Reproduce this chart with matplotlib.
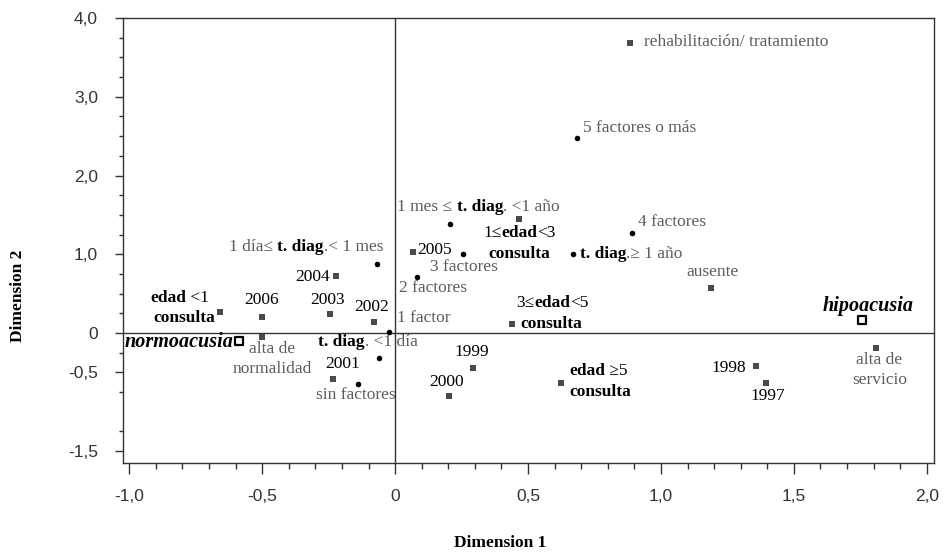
import matplotlib
matplotlib.use("Agg")
import matplotlib.pyplot as plt
from matplotlib.ticker import FixedLocator, MultipleLocator

# correspondence analysis coordinates
names = ["rehabilitación/ tratamiento", "5 factores o más", "4 factores", "t. diag.≥ 1 año",
         "ausente", "hipoacusia", "alta de servicio", "1998", "1997", "edad ≥5 consulta",
         "1999", "2000", "3≤edad<5 consulta", "1 factor", "2 factores", "3 factores", "2005",
         "1 mes ≤ t. diag. <1 año", "1≤edad<3 consulta", "1 día≤ t. diag.< 1 mes", "2004",
         "2003", "2002", "2006", "edad <1 consulta", "normoacusia", "alta de normalidad",
         "t. diag. <1 día", "2001", "sin factores"]
dim1 = [0.883, 0.684, 0.891, 0.669, 1.19, 1.756, 1.81, 1.357, 1.395, 0.624,
        0.293, 0.203, 0.44, -0.023, 0.083, 0.256, 0.068, 0.207, 0.466, -0.068,
        -0.222, -0.244, -0.079, -0.5, -0.658, -0.586, -0.5, -0.06, -0.233, -0.139]
dim2 = [3.68, 2.48, 1.27, 1.00, 0.57, 0.165, -0.19, -0.42, -0.635, -0.635,
        -0.44, -0.80, 0.114, 0.013, 0.71, 1.00, 1.03, 1.38, 1.45, 0.876,
        0.724, 0.24, 0.14, 0.20, 0.267, -0.10, -0.05, -0.32, -0.584, -0.648]
kind = ["sq", "dot", "dot", "dot", "sq", "hollow", "sq", "sq", "sq", "sq",
        "sq", "sq", "sq", "dot", "dot", "dot", "sq", "dot", "sq", "dot",
        "sq", "sq", "sq", "sq", "sq", "hollow", "sq", "dot", "sq", "dot"]

xtick_vals = [-1.0, -0.5, 0, 0.5, 1.0, 1.5, 2.0]
xtick_text = ["-1,0", "-0,5", "0", "0,5", "1,0", "1,5", "2,0"]
ytick_vals = [4.0, 3.0, 2.0, 1.0, 0, -0.5, -1.5]
ytick_text = ["4,0", "3,0", "2,0", "1,0", "0", "-0,5", "-1,5"]

# label layout: (dx px, dy px, ha, [(text, style), ...]) per line
layout = {
    "rehabilitación/ tratamiento": [(14, 1, "left", [("rehabilitación/ tratamiento", "g")])],
    "5 factores o más": [(6, 10, "left", [("5 factores o más", "g")])],
    "4 factores": [(6, 11, "left", [("4 factores", "g")])],
    "t. diag.≥ 1 año": [(7, 0, "left", [("t. diag", "b"), (".≥ 1 año", "g")])],
    "ausente": [(1, 16, "center", [("ausente", "g")])],
    "hipoacusia": [(6, 14, "center", [("hipoacusia", "bi")])],
    "alta de servicio": [(3, -22, "center", [("alta de\nservicio", "g")])],
    "1998": [(-10, -2, "right", [("1998", "k")])],
    "1997": [(2, -13, "center", [("1997", "k")])],
    "edad ≥5 consulta": [(8, 12, "left", [("edad", "b"), (" ≥5", "k")]),
                         (8, -9, "left", [("consulta", "b")])],
    "1999": [(-1, 16, "center", [("1999", "k")])],
    "2000": [(-3, 14, "center", [("2000", "k")])],
    "3≤edad<5 consulta": [(4, 21, "left", [("3≤", "k"), ("edad", "b"), ("<5", "k")]),
                          (8, 0, "left", [("consulta", "b")])],
    "1 factor": [(8, 14, "left", [("1 factor", "g")])],
    "2 factores": [(-18, -11, "left", [("2 factores", "g")])],
    "3 factores": [(-33, -13, "left", [("3 factores", "g")])],
    "2005": [(4, 2, "left", [("2005", "k")])],
    "1 mes ≤ t. diag. <1 año": [(-53, 17, "left", [("1 mes ≤ ", "g"), ("t. diag", "b"), (". <1 año", "g")])],
    "1≤edad<3 consulta": [(-36, -14, "left", [("1≤", "k"), ("edad", "b"), ("<3", "k")]),
                          (-31, -35, "left", [("consulta", "b")])],
    "1 día≤ t. diag.< 1 mes": [(-148, 17, "left", [("1 día≤ ", "g"), ("t. diag", "b"), (".< 1 mes", "g")])],
    "2004": [(-6, -1, "right", [("2004", "k")])],
    "2003": [(-3, 14, "center", [("2003", "k")])],
    "2002": [(-2, 15, "center", [("2002", "k")])],
    "2006": [(-1, 17, "center", [("2006", "k")])],
    "edad <1 consulta": [(-70, 14, "left", [("edad", "b"), (" <1", "k")]),
                         (-5, -6, "right", [("consulta", "b")])],
    "normoacusia": [(-6, -1, "right", [("normoacusia", "bi")])],
    "alta de normalidad": [(10, -22, "center", [("alta de\nnormalidad", "g")])],
    "t. diag. <1 día": [(-61, 16, "left", [("t. diag", "b"), (". <1 día", "g")])],
    "2001": [(9, 15, "center", [("2001", "k")])],
    "sin factores": [(-42, -11, "left", [("sin factores", "g")])],
}

SERIF = "Liberation Serif"
styles = {
    "g": dict(color="#5c5c5c", fontweight="normal", fontsize=12.5),
    "k": dict(color="black", fontweight="normal", fontsize=12.5),
    "b": dict(color="black", fontweight="bold", fontsize=12.5),
    "bi": dict(color="black", fontweight="bold", fontstyle="italic", fontsize=14.5),
}

fig = plt.figure(figsize=(9.47, 5.54), dpi=100)
ax = fig.add_axes([0.130, 0.1643, 0.856, 0.8032])
ax.set_xlim(-1.023, 2.026)
ax.set_ylim(-1.65, 4.0)

ax.axhline(0, color="#333333", lw=1.0, zorder=1)
ax.axvline(0, color="#333333", lw=1.0, zorder=1)

for k in ["sq", "dot", "hollow"]:
    xs = [x for x, kk in zip(dim1, kind) if kk == k]
    ys = [y for y, kk in zip(dim2, kind) if kk == k]
    if k == "sq":
        ax.scatter(xs, ys, marker="s", s=18, color="#4a4a4a", linewidths=0, zorder=3)
    elif k == "dot":
        ax.scatter(xs, ys, marker="o", s=16, color="black", linewidths=0, zorder=3)
    else:
        ax.scatter(xs, ys, marker="s", s=30, facecolor="white", edgecolor="black",
                   linewidths=1.6, zorder=3)


def put_line(x, y, dx, dy, ha, pieces):
    txt, st = pieces[0]
    prev = ax.annotate(txt, (x, y), xytext=(dx, dy), textcoords="offset pixels",
                       ha=ha, va="center", family=SERIF, multialignment="center",
                       linespacing=1.3, **styles[st])
    for txt, st in pieces[1:]:
        prev = ax.annotate(txt, xy=(1, 0.5), xycoords=prev, ha="left", va="center",
                           family=SERIF, **styles[st])


for name, x, y in zip(names, dim1, dim2):
    for dx, dy, ha, pieces in layout[name]:
        put_line(x, y, dx, dy, ha, pieces)

ax.xaxis.set_major_locator(FixedLocator(xtick_vals))
ax.set_xticklabels(xtick_text)
ax.xaxis.set_minor_locator(MultipleLocator(0.1))
ax.yaxis.set_major_locator(FixedLocator(ytick_vals))
ax.set_yticklabels(ytick_text)
ax.yaxis.set_minor_locator(FixedLocator([v / 4 for v in range(-6, 17) if v % 4 != 0 and v != -2]))

ax.tick_params(axis="x", which="major", direction="out", length=8, width=1, pad=11,
               labelsize=12.5, labelcolor="#333333", color="#333333")
ax.tick_params(axis="x", which="minor", direction="out", length=4.5, width=1, color="#333333")
ax.tick_params(axis="y", which="major", direction="out", length=6, width=1, pad=12,
               labelsize=12.5, labelcolor="#333333", color="#333333")
ax.tick_params(axis="y", which="minor", direction="out", length=3, width=1, color="#333333")
for lab in ax.get_xticklabels() + ax.get_yticklabels():
    lab.set_family("Liberation Sans")

for sp in ax.spines.values():
    sp.set_color("#333333")
    sp.set_linewidth(1.0)

ax.set_xlabel("Dimension 1", family=SERIF, fontweight="bold", fontsize=12.5, va="center")
ax.xaxis.set_label_coords(0.465, -0.18)
ax.set_ylabel("Dimension 2", family=SERIF, fontweight="bold", fontsize=12.5)
ax.yaxis.set_label_coords(-0.12, 0.375)

fig.savefig("out.png", dpi=100)
